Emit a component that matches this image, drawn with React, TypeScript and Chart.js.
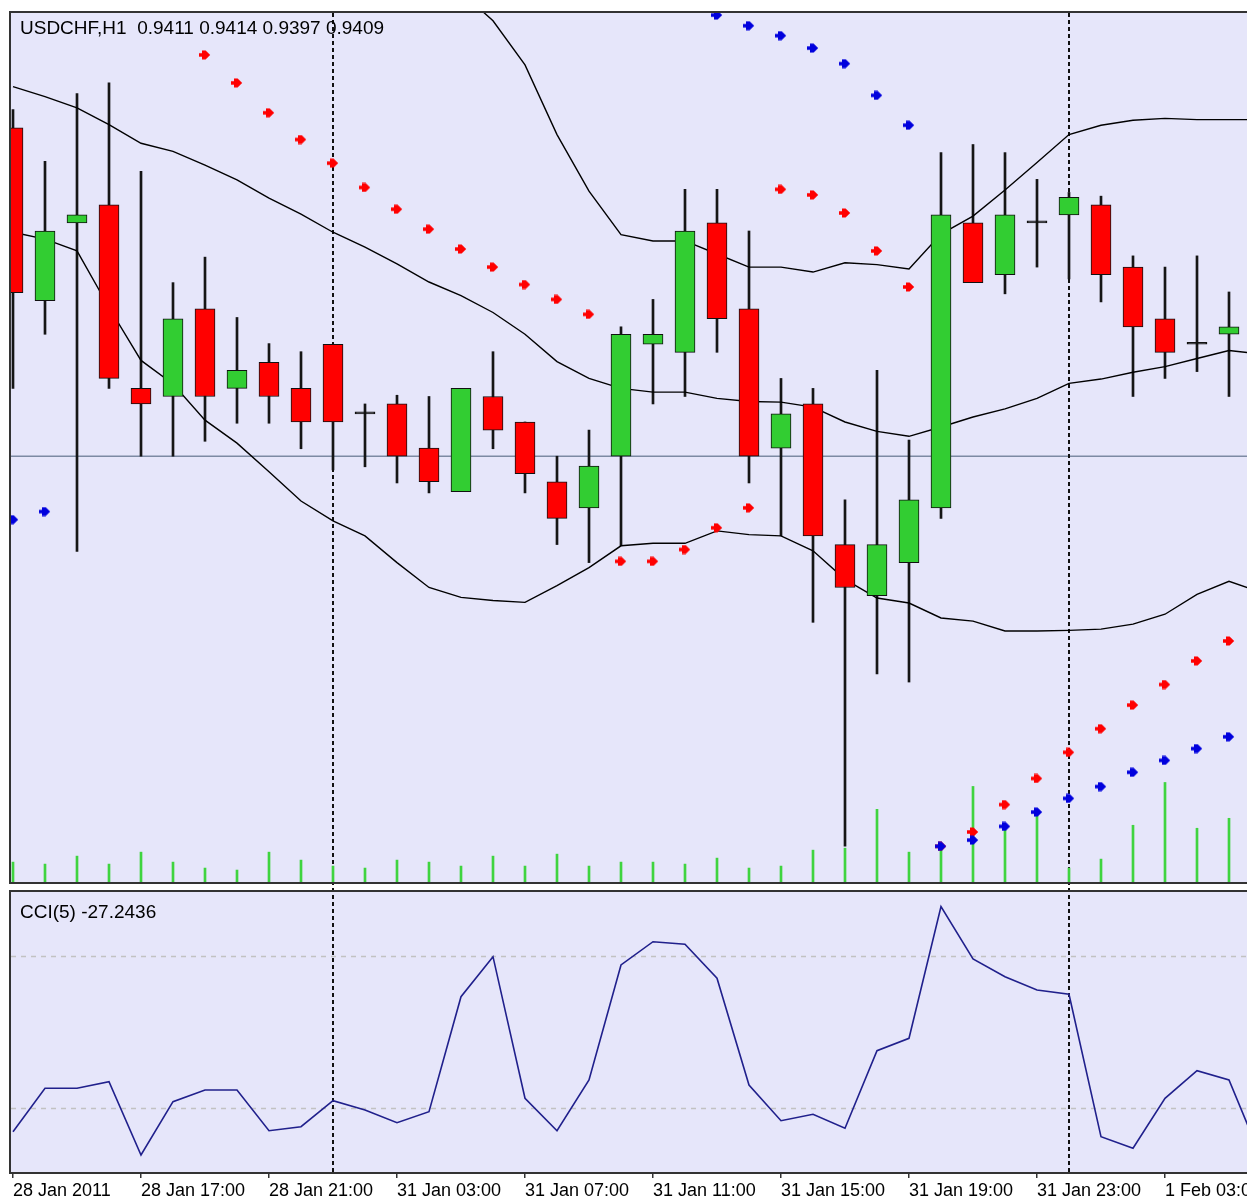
import React, { useEffect, useRef } from "react";
import { Chart, registerables } from "chart.js";

Chart.register(...registerables);

// ---------- text ----------
const symbolTitle = "USDCHF,H1  0.9411 0.9414 0.9397 0.9409";
const cciTitle = "CCI(5) -27.2436";

// ---------- time axis ----------
const timeLabels = [
  "28 Jan 2011", "28 Jan 17:00", "28 Jan 21:00", "31 Jan 03:00", "31 Jan 07:00",
  "31 Jan 11:00", "31 Jan 15:00", "31 Jan 19:00", "31 Jan 23:00", "1 Feb 03:00",
];
const timeLabelBars = [0, 4, 8, 12, 16, 20, 24, 28, 32, 36];
const separatorBars = [10, 33];

// ---------- price data (bars 0..39) ----------
const opens = [
  0.94414, 0.94136, 0.94261, 0.94290, 0.93995, 0.93982, 0.94123, 0.93995, 0.94037, 0.93995,
  0.94066, 0.93954, 0.93970, 0.93899, 0.93829, 0.93982, 0.93941, 0.93845, 0.93803, 0.93886,
  0.94066, 0.94053, 0.94261, 0.94123, 0.93899, 0.93970, 0.93744, 0.93662, 0.93715, 0.93803,
  0.94261, 0.94178, 0.94261, 0.94274, 0.94290, 0.94190, 0.94107, 0.94066, 0.94082, 0.94110,
];
const highs = [
  0.94443, 0.94360, 0.94469, 0.94486, 0.94344, 0.94165, 0.94206, 0.94109, 0.94067, 0.94054,
  0.94066, 0.93970, 0.93984, 0.93982, 0.93995, 0.94054, 0.93941, 0.93886, 0.93928, 0.94094,
  0.94138, 0.94315, 0.94315, 0.94248, 0.94011, 0.93995, 0.93816, 0.94024, 0.93912, 0.94374,
  0.94387, 0.94374, 0.94331, 0.94310, 0.94304, 0.94208, 0.94190, 0.94208, 0.94150, 0.94140,
];
const lows = [
  0.93995, 0.94082, 0.93733, 0.93995, 0.93886, 0.93886, 0.93910, 0.93939, 0.93939, 0.93898,
  0.93864, 0.93869, 0.93843, 0.93827, 0.93829, 0.93898, 0.93827, 0.93744, 0.93715, 0.93742,
  0.93970, 0.93982, 0.94053, 0.93843, 0.93758, 0.93619, 0.93259, 0.93536, 0.93523, 0.93786,
  0.94165, 0.94147, 0.94190, 0.94171, 0.94134, 0.93982, 0.94011, 0.94022, 0.93982, 0.93970,
];
const closes = [
  0.94149, 0.94248, 0.94274, 0.94011, 0.93970, 0.94107, 0.93982, 0.94024, 0.93982, 0.93941,
  0.93941, 0.93954, 0.93886, 0.93845, 0.93995, 0.93928, 0.93858, 0.93786, 0.93870, 0.94082,
  0.94082, 0.94248, 0.94107, 0.93886, 0.93954, 0.93758, 0.93675, 0.93744, 0.93816, 0.94274,
  0.94165, 0.94274, 0.94261, 0.94302, 0.94178, 0.94094, 0.94053, 0.94066, 0.94094, 0.94090,
];
const volumes = [
  200, 180, 260, 180, 300, 200, 140, 120, 300, 220,
  160, 140, 220, 200, 160, 260, 160, 280, 160, 200,
  200, 180, 240, 140, 160, 320, 340, 730, 300, 340,
  960, 560, 690, 140, 230, 570, 1000, 540, 640,
];

// ---------- Bollinger bands ----------
const bbUpper = [
  null, null, null, null, null, null, null, null, null, null,
  null, null, null, null, 0.94632, 0.94586, 0.94515, 0.94403, 0.94312, 0.94242,
  0.94232, 0.94232, 0.94211, 0.94190, 0.94190, 0.94182, 0.94197, 0.94194, 0.94187, 0.94243,
  0.94272, 0.94314, 0.94358, 0.94403, 0.94418, 0.94426, 0.94429, 0.94427, 0.94427, 0.94427,
];
const bbMiddle = [
  0.94480, 0.94464, 0.94446, 0.94419, 0.94389, 0.94376, 0.94354, 0.94330, 0.94301, 0.94275,
  0.94246, 0.94222, 0.94195, 0.94166, 0.94144, 0.94117, 0.94082, 0.94038, 0.94011, 0.93995,
  0.93989, 0.93989, 0.93979, 0.93974, 0.93973, 0.93965, 0.93941, 0.93926, 0.93918, 0.93933,
  0.93949, 0.93962, 0.93979, 0.94003, 0.94010, 0.94021, 0.94030, 0.94043, 0.94056, 0.94050,
];
const bbLower = [
  0.94246, 0.94235, 0.94216, 0.94125, 0.94040, 0.94002, 0.93944, 0.93907, 0.93861, 0.93814,
  0.93782, 0.93758, 0.93715, 0.93675, 0.93659, 0.93654, 0.93651, 0.93678, 0.93707, 0.93742,
  0.93746, 0.93746, 0.93766, 0.93760, 0.93758, 0.93734, 0.93688, 0.93658, 0.93650, 0.93626,
  0.93621, 0.93605, 0.93605, 0.93606, 0.93608, 0.93616, 0.93632, 0.93664, 0.93685, 0.93667,
];

// ---------- Parabolic SAR (two settings) ----------
const sarRed = [
  null, null, null, null, null, null, 0.94531, 0.94486, 0.94438, 0.94395,
  0.94357, 0.94318, 0.94283, 0.94251, 0.94219, 0.94190, 0.94162, 0.94138, 0.94114, 0.93717,
  0.93717, 0.93736, 0.93771, 0.93803, 0.94315, 0.94306, 0.94277, 0.94216, 0.94158, 0.93259,
  0.93282, 0.93326, 0.93368, 0.93410, 0.93448, 0.93486, 0.93519, 0.93557, 0.93589, null,
];
const sarBlue = [
  0.93784, 0.93797, null, null, null, null, null, null, null, null,
  null, null, null, null, null, null, null, null, null, null,
  null, null, 0.94595, 0.94578, 0.94562, 0.94542, 0.94517, 0.94466, 0.94418, 0.93259,
  0.93269, 0.93291, 0.93314, 0.93336, 0.93355, 0.93378, 0.93397, 0.93416, 0.93435, null,
];
const hLineLevel = 0.93886;

// ---------- CCI(5) ----------
const cci = [
  -131.2, -74.1, -74.1, -65.4, -161.8, -91.7, -76.3, -76.3, -129.9, -124.6,
  -90.4, -102.6, -119.3, -104.9, 46.4, 99.1, -87.2, -129.9, -63.2, 88.2,
  118.8, 115.4, 70.7, -69.7, -116.7, -108.3, -126.7, -24.6, -8.3, 164.9,
  96.1, 72.8, 55.3, 49.6, -137.8, -153.0, -87.2, -50.9, -63.2, -164.5,
];
const cciLevels = [100, -100];

// ---------- view ----------
const X_MIN = -0.0625;
const X_MAX = 38.5625;
const Y_MIN = 0.932016;
const Y_MAX = 0.945984;
const VOL_MAX = 8730;
const CCI_MIN = -184.2;
const CCI_MAX = 184.2;

const BG = "#E6E6FA";
const BORDER = "#333333";
const FONT = '"Liberation Sans", Arial, sans-serif';

function makeArrow(color: string) {
  const c = document.createElement("canvas");
  c.width = 12;
  c.height = 10;
  const g = c.getContext("2d")!;
  g.fillStyle = color;
  g.beginPath();
  g.moveTo(0, 3.2);
  g.lineTo(3, 3.2);
  g.lineTo(3, 0.4);
  g.lineTo(6.6, 0.4);
  g.lineTo(11.2, 5);
  g.lineTo(6.6, 9.6);
  g.lineTo(3, 9.6);
  g.lineTo(3, 6.8);
  g.lineTo(0, 6.8);
  g.closePath();
  g.fill();
  return c;
}

const xy = (arr: (number | null)[]) => arr.map((v, i) => ({ x: i, y: v }));

export default function App() {
  const refA = useRef<HTMLCanvasElement>(null);
  const refB = useRef<HTMLCanvasElement>(null);

  useEffect(() => {
    const redArrow = makeArrow("#ff0000");
    const blueArrow = makeArrow("#0000dd");

    const bodyData = opens.map((o, i) => ({ x: i, y: [o, closes[i]] }));
    const bodyColors = opens.map((o, i) =>
      closes[i] > o ? "#32CD32" : closes[i] < o ? "#FF0000" : "#111111"
    );
    const wickData = lows.map((l, i) => ({ x: i, y: [l, highs[i]] }));
    const volData = volumes.map((v, i) => ({ x: i, y: v }));

    const drawSeparators = (chart: any, top: number, bottom: number) => {
      const ctx = chart.ctx;
      const xs = chart.scales.x;
      ctx.save();
      ctx.strokeStyle = "#111";
      ctx.lineWidth = 2;
      ctx.setLineDash([4, 3]);
      separatorBars.forEach((b) => {
        const px = Math.round(xs.getPixelForValue(b));
        ctx.beginPath();
        ctx.moveTo(px, top);
        ctx.lineTo(px, bottom);
        ctx.stroke();
      });
      ctx.restore();
    };

    const drawBorders = (chart: any) => {
      const ctx = chart.ctx;
      const a = chart.chartArea;
      ctx.save();
      ctx.strokeStyle = BORDER;
      ctx.lineWidth = 2;
      ctx.beginPath();
      ctx.moveTo(a.left - 1, a.top - 1);
      ctx.lineTo(a.right, a.top - 1);
      ctx.moveTo(a.left - 1, a.top - 2);
      ctx.lineTo(a.left - 1, a.bottom + 2);
      ctx.moveTo(a.left - 2, a.bottom + 1);
      ctx.lineTo(a.right, a.bottom + 1);
      ctx.stroke();
      ctx.restore();
    };

    const mainPlugin = {
      id: "mainDecor",
      beforeDraw(chart: any) {
        const ctx = chart.ctx;
        const a = chart.chartArea;
        ctx.save();
        ctx.fillStyle = "#ffffff";
        ctx.fillRect(0, 0, chart.width, chart.height);
        ctx.fillStyle = BG;
        ctx.fillRect(a.left - 1, a.top - 1, a.right - a.left + 1, a.bottom - a.top + 2);
        ctx.restore();
      },
      beforeDatasetsDraw(chart: any) {
        const ctx = chart.ctx;
        const a = chart.chartArea;
        const py = chart.scales.y.getPixelForValue(hLineLevel);
        ctx.save();
        ctx.strokeStyle = "#7d8aa3";
        ctx.lineWidth = 1.5;
        ctx.beginPath();
        ctx.moveTo(a.left, py);
        ctx.lineTo(a.right, py);
        ctx.stroke();
        ctx.restore();
        drawSeparators(chart, a.top, chart.height);
      },
      afterDraw(chart: any) {
        const ctx = chart.ctx;
        drawBorders(chart);
        ctx.save();
        ctx.fillStyle = "#000";
        ctx.font = `19px ${FONT}`;
        ctx.textBaseline = "alphabetic";
        ctx.textAlign = "left";
        ctx.fillText(symbolTitle, 20, 34);
        ctx.restore();
      },
    };

    const chartA = new Chart(refA.current!, {
      type: "bar",
      data: {
        datasets: [
          {
            type: "bar",
            label: "body",
            data: bodyData as any,
            backgroundColor: bodyColors,
            borderColor: "#111111",
            borderWidth: 1,
            borderSkipped: false,
            barThickness: 20,
            minBarLength: 2,
            grouped: false,
            yAxisID: "y",
            order: 0,
          } as any,
          {
            type: "line",
            label: "SAR blue",
            data: xy(sarBlue) as any,
            showLine: false,
            pointStyle: blueArrow,
            pointRadius: 5,
            yAxisID: "y",
            order: 1,
          } as any,
          {
            type: "line",
            label: "SAR red",
            data: xy(sarRed) as any,
            showLine: false,
            pointStyle: redArrow,
            pointRadius: 5,
            yAxisID: "y",
            order: 1,
          } as any,
          {
            type: "line",
            label: "BB upper",
            data: xy(bbUpper) as any,
            borderColor: "#000",
            borderWidth: 1.4,
            pointRadius: 0,
            spanGaps: false,
            yAxisID: "y",
            order: 2,
          } as any,
          {
            type: "line",
            label: "BB middle",
            data: xy(bbMiddle) as any,
            borderColor: "#000",
            borderWidth: 1.4,
            pointRadius: 0,
            yAxisID: "y",
            order: 2,
          } as any,
          {
            type: "line",
            label: "BB lower",
            data: xy(bbLower) as any,
            borderColor: "#000",
            borderWidth: 1.4,
            pointRadius: 0,
            yAxisID: "y",
            order: 2,
          } as any,
          {
            type: "bar",
            label: "wick",
            data: wickData as any,
            backgroundColor: "#151515",
            borderWidth: 0,
            barThickness: 2,
            grouped: false,
            yAxisID: "y",
            order: 3,
          } as any,
          {
            type: "bar",
            label: "volume",
            data: volData as any,
            backgroundColor: "#3fd43f",
            borderWidth: 0,
            barThickness: 2,
            grouped: false,
            yAxisID: "yVol",
            order: 4,
          } as any,
        ],
      },
      options: {
        animation: false,
        responsive: false,
        maintainAspectRatio: false,
        events: [],
        layout: { padding: { left: 11, right: 11, top: 13, bottom: 2 } },
        plugins: { legend: { display: false }, tooltip: { enabled: false } },
        scales: {
          x: { type: "linear", min: X_MIN, max: X_MAX, display: false, offset: false },
          y: { type: "linear", min: Y_MIN, max: Y_MAX, display: false },
          yVol: { type: "linear", min: 0, max: VOL_MAX, display: false },
        },
      } as any,
      plugins: [mainPlugin],
    });

    const cciPlugin = {
      id: "cciDecor",
      beforeDraw(chart: any) {
        const ctx = chart.ctx;
        const a = chart.chartArea;
        ctx.save();
        ctx.fillStyle = "#ffffff";
        ctx.fillRect(0, 0, chart.width, chart.height);
        ctx.fillStyle = BG;
        ctx.fillRect(a.left - 1, a.top - 1, a.right - a.left + 1, a.bottom - a.top + 2);
        ctx.restore();
      },
      beforeDatasetsDraw(chart: any) {
        const ctx = chart.ctx;
        const a = chart.chartArea;
        const ys = chart.scales.y;
        ctx.save();
        ctx.strokeStyle = "#c2c2c2";
        ctx.lineWidth = 1.5;
        ctx.setLineDash([5, 5]);
        cciLevels.forEach((lv) => {
          const py = Math.round(ys.getPixelForValue(lv)) + 0.5;
          ctx.beginPath();
          ctx.moveTo(a.left, py);
          ctx.lineTo(a.right, py);
          ctx.stroke();
        });
        ctx.restore();
        drawSeparators(chart, 0, a.bottom);
      },
      afterDraw(chart: any) {
        const ctx = chart.ctx;
        const a = chart.chartArea;
        drawBorders(chart);
        ctx.save();
        ctx.fillStyle = "#ffffff";
        ctx.fillRect(a.right, a.bottom + 2, chart.width - a.right, chart.height - a.bottom);
        ctx.fillStyle = "#000";
        ctx.font = `19px ${FONT}`;
        ctx.textBaseline = "alphabetic";
        ctx.textAlign = "left";
        ctx.fillText(cciTitle, 20, a.top + 26);
        ctx.restore();
      },
    };

    const chartB = new Chart(refB.current!, {
      type: "line",
      data: {
        datasets: [
          {
            label: "CCI(5)",
            data: xy(cci) as any,
            borderColor: "#20208c",
            borderWidth: 1.6,
            pointRadius: 0,
            tension: 0,
          },
        ],
      },
      options: {
        animation: false,
        responsive: false,
        maintainAspectRatio: false,
        events: [],
        layout: { padding: { left: 11, right: 11, top: 4, bottom: 0 } },
        plugins: { legend: { display: false }, tooltip: { enabled: false } },
        scales: {
          x: {
            type: "linear",
            min: X_MIN,
            max: X_MAX,
            offset: false,
            afterBuildTicks: (scale: any) => {
              scale.ticks = timeLabelBars.map((v) => ({ value: v }));
            },
            afterFit: (scale: any) => {
              scale.height = 30;
              scale.paddingLeft = 0;
              scale.paddingRight = 0;
            },
            ticks: {
              autoSkip: false,
              maxRotation: 0,
              minRotation: 0,
              align: "start",
              padding: 2,
              color: "#000",
              font: { family: FONT, size: 18 },
              callback: (v: any) => {
                const k = timeLabelBars.indexOf(Number(v));
                return k >= 0 ? timeLabels[k] : "";
              },
            },
            grid: {
              drawOnChartArea: false,
              drawTicks: true,
              tickLength: 6,
              color: "#333",
              lineWidth: 1.5,
            },
            border: { display: false },
          },
          y: { type: "linear", min: CCI_MIN, max: CCI_MAX, display: false },
        },
      } as any,
      plugins: [cciPlugin],
    });

    return () => {
      chartA.destroy();
      chartB.destroy();
    };
  }, []);

  return (
    <div
      style={{
        position: "absolute",
        left: 0,
        top: 0,
        width: 1258,
        height: 1202,
        background: "#fff",
        overflow: "hidden",
      }}
    >
      <canvas
        ref={refA}
        width={1258}
        height={888}
        style={{ position: "absolute", left: 0, top: 0, width: 1258, height: 888 }}
      />
      <canvas
        ref={refB}
        width={1258}
        height={314}
        style={{ position: "absolute", left: 0, top: 888, width: 1258, height: 314 }}
      />
    </div>
  );
}
